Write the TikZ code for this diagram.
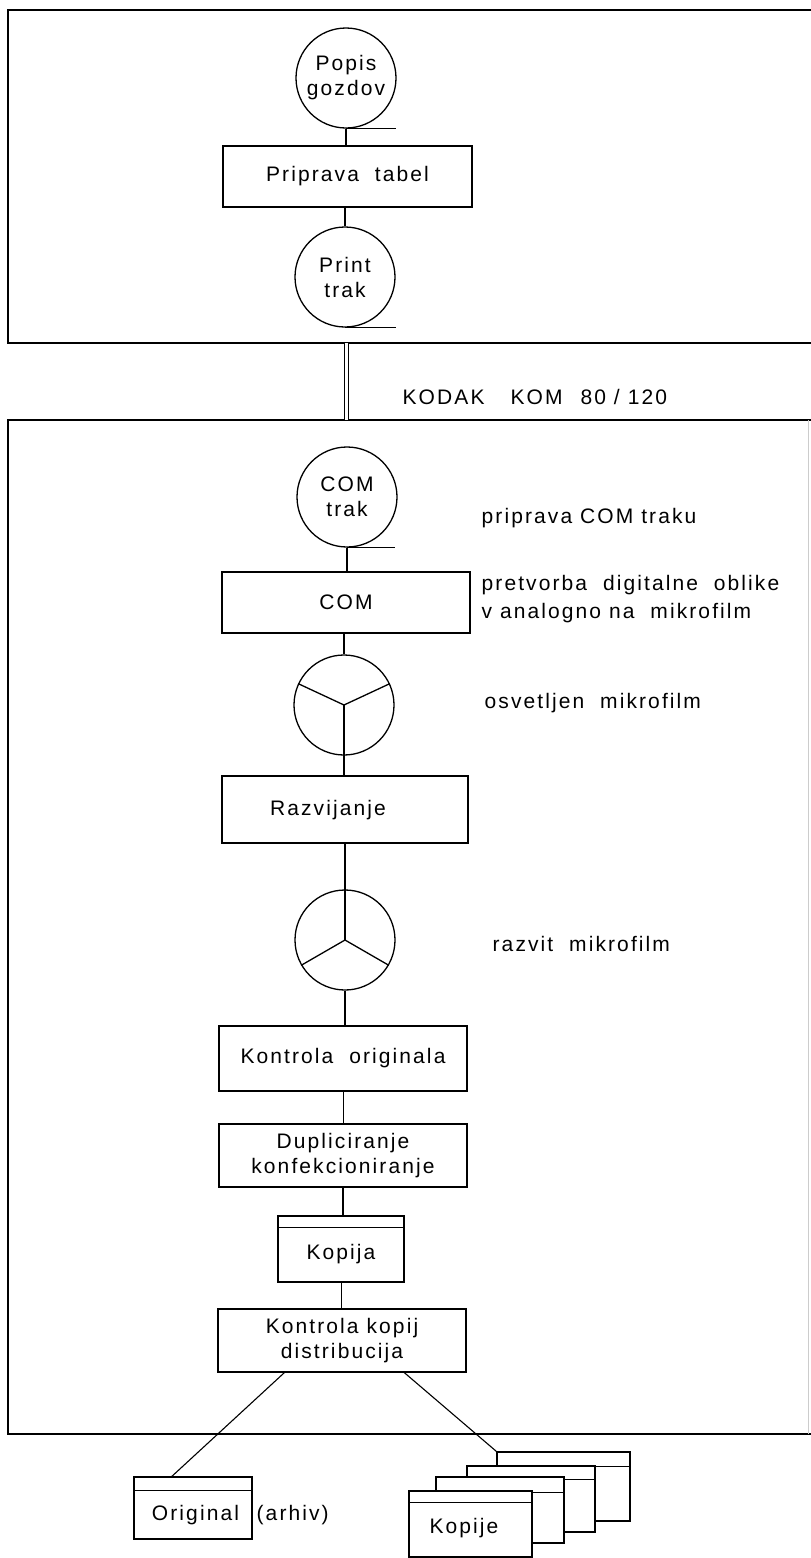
\documentclass[tikz,border=0pt]{standalone}
\usepackage{fontspec}
\setmainfont{Liberation Sans}[LetterSpace=10]
\usetikzlibrary{calc}
\begin{document}
\begin{tikzpicture}[x=1pt,y=-1pt,line width=1.3pt,
  every node/.style={font=\fontsize{21}{25}\selectfont},
  tape/.style={circle,draw,minimum size=100pt,inner sep=0pt,align=center},
  reel/.style={circle,draw,minimum size=100pt,inner sep=0pt},
  proc/.style={rectangle,draw,minimum width=248pt,minimum height=62pt,inner sep=0pt,align=center},
  docbox/.style={rectangle,draw,fill=white,inner sep=0pt},
  txt/.style={inner sep=0pt,anchor=west,align=left},
  frame/.style={line width=1.8pt},
  conn/.style={line width=1.3pt}]
\useasboundingbox (0,0) rectangle (811,1558);

% frames
\draw[frame] (811,10) -- (8,10) -- (8,343) -- (811,343);
\draw[frame] (811,420) -- (8,420) -- (8,1434) -- (811,1434);
\draw[line width=0.6pt,black!20] (808,420) -- (808,1434);
\coordinate (fa) at (346.5,343);
\coordinate (fb) at (346.5,420);
\draw[line width=1pt,double,double distance=3.5pt] (fa) -- (fb);
\node[txt] (kodak) at (402,397) {KODAK\hspace{26pt}KOM\hspace{18pt}80 / 120};

% top part
\node[tape] (popis) at (346,78) {Popis\\gozdov};
\node[proc,minimum width=249pt,minimum height=61pt] (tabel) at (347.5,176.5) {Priprava\ \ tabel};
\node[tape] (print) at (345,277) {Print\\trak};
\draw[conn] (popis.south) -- ++(50,0);
\draw[conn] (print.south) -- ++(51,0);
\draw[conn] (popis.south) -- (popis.south |- tabel.north);
\draw[conn] (print.north |- tabel.south) -- (print.north);

% lower part
\node[tape] (comtrak) at (347,497) {COM\\trak};
\draw[conn] (comtrak.south) -- ++(48,0);
\node[txt] (t1) at (481,518) {priprava COM traku};
\node[proc,minimum height=61pt] (com) at (346,602.5) {COM};
\node[txt,font=\fontsize{21}{28}\selectfont] (t2) at (481,599) {pretvorba\ \ digitalne\ \ oblike\\v analogno na\ \ mikrofilm};
\draw[conn] (comtrak.south) -- (comtrak.south |- com.north);

\node[reel] (osv) at (344,705) {};
\draw[conn] (osv.center) -- (osv.155);
\draw[conn] (osv.center) -- (osv.25);
\draw[conn] (osv.center) -- (osv.south);
\node[txt] (t3) at (484,703) {osvetljen\ \ mikrofilm};
\draw[conn] (osv.north |- com.south) -- (osv.north);

\node[proc,minimum width=246pt,minimum height=67pt] (razv) at (345,809.5) {};
\node[inner sep=0pt] (razvt) at (328,810) {Razvijanje};
\draw[conn] (osv.south) -- (osv.south |- razv.north);

\node[reel] (razvit) at (345,940) {};
\draw[conn] (razvit.center) -- (razvit.north);
\draw[conn] (razvit.center) -- (razvit.210);
\draw[conn] (razvit.center) -- (razvit.-30);
\node[txt] (t4) at (492,944) {razvit\ \ mikrofilm};
\draw[conn] (razvit.north |- razv.south) -- (razvit.north);

\node[proc,minimum height=65pt] (korig) at (343,1058.5) {Kontrola\ \ originala};
\draw[conn] (razvit.south) -- (razvit.south |- korig.north);

\node[proc,minimum height=63pt,font=\fontsize{21}{25}\selectfont] (dupl) at (343,1155.5) {Dupliciranje\\konfekcioniranje};
\draw[conn,line width=1pt] (korig.south) -- (dupl.north);

\node[docbox,minimum width=126pt,minimum height=66pt] (kopija) at (341,1249) {};
\draw[conn] ($(kopija.north west)+(0,12)$) -- ($(kopija.north east)+(0,12)$);
\node[inner sep=0pt] (kopijat) at (341,1254) {Kopija};
\draw[conn] (dupl.south) -- (dupl.south |- kopija.north);

\node[proc,minimum height=63pt] (kkop) at (342,1340.5) {Kontrola kopij\\distribucija};
\draw[conn,line width=1pt] (kopija.south) -- (kopija.south |- kkop.north);

% outputs
\node[docbox,minimum width=118pt,minimum height=62pt] (orig) at (193,1508) {};
\draw[conn] ($(orig.north west)+(0,14)$) -- ($(orig.north east)+(0,14)$);
\node[inner sep=0pt] (origt) at (195.5,1515) {Original};
\node[txt] (arhiv) at (256,1515) {(arhiv)};

\node[docbox,minimum width=133pt,minimum height=69pt] (k4) at (563.5,1486.5) {};
\draw[conn] ($(k4.north west)+(0,15)$) -- ($(k4.north east)+(0,15)$);
\node[docbox,minimum width=128pt,minimum height=66pt] (k3) at (531,1499) {};
\draw[conn] ($(k3.north west)+(0,14)$) -- ($(k3.north east)+(0,14)$);
\node[docbox,minimum width=128pt,minimum height=66pt] (k2) at (500,1510) {};
\draw[conn] ($(k2.north west)+(0,16)$) -- ($(k2.north east)+(0,16)$);
\node[docbox,minimum width=123pt,minimum height=66pt] (k1) at (470.5,1524) {};
\draw[conn] ($(k1.north west)+(0,12)$) -- ($(k1.north east)+(0,12)$);
\node[inner sep=0pt] (k1t) at (464,1528) {Kopije};

\draw[conn,line width=1.1pt] ($(kkop.south west)+(67,0)$) -- ($(orig.north west)+(38.5,0)$);
\draw[conn,line width=1.1pt] ($(kkop.south west)+(187,0)$) -- (k4.north west);
\end{tikzpicture}
\end{document}
